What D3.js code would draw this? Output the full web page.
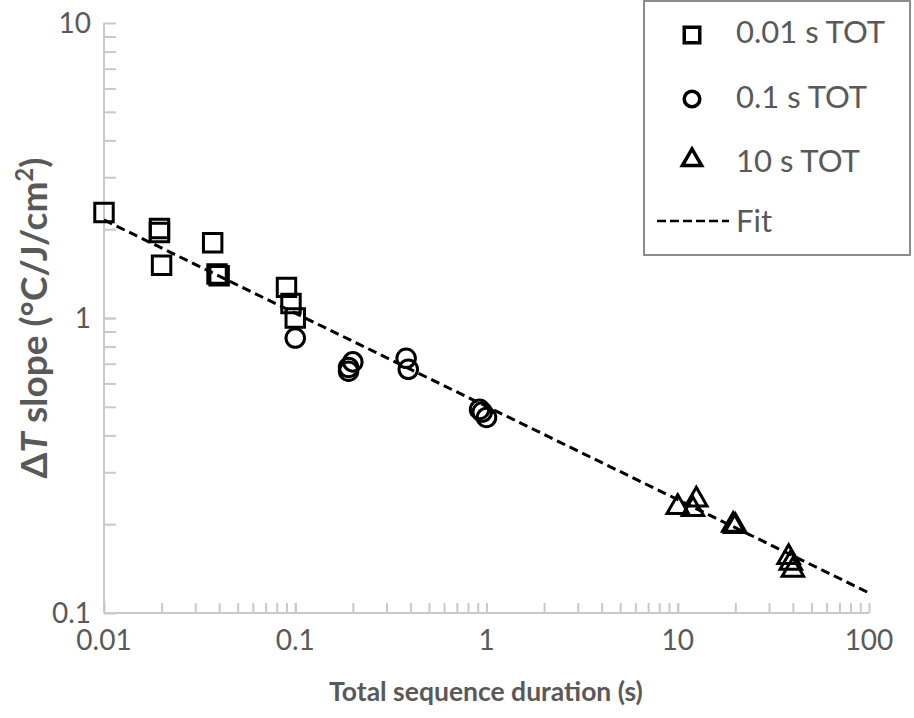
<!DOCTYPE html>
<html><head><meta charset="utf-8">
<script src="https://cdn.jsdelivr.net/npm/d3@7"></script>
<style>body{margin:0;background:#fff}svg{display:block}</style>
</head><body>
<svg id="c" width="914" height="718"></svg>
<script>
// Data
const sqX = [0.01, 0.0195, 0.0195, 0.02, 0.037, 0.039, 0.04, 0.09, 0.095, 0.1];
const sqY = [2.28, 2.01, 1.95, 1.51, 1.80, 1.41, 1.39, 1.27, 1.12, 1.0];
const ciX = [0.1, 0.19, 0.19, 0.2, 0.38, 0.39, 0.92, 0.95, 1.0];
const ciY = [0.855, 0.66, 0.68, 0.71, 0.73, 0.67, 0.49, 0.48, 0.46];
const trX = [10, 12.5, 12, 19.5, 20, 38, 39, 40];
const trY = [0.232, 0.246, 0.228, 0.202, 0.2, 0.157, 0.15, 0.142];
const fitX = [0.01, 100];
const fitY = [2.15, 0.117];
const xTicks = [0.01, 0.1, 1, 10, 100];
const xTickLabels = ["0.01", "0.1", "1", "10", "100"];
const yTicks = [0.1, 1, 10];
const yTickLabels = ["0.1", "1", "10"];
const legendLabels = ["0.01 s TOT", "0.1 s TOT", "10 s TOT", "Fit"];

const svg = d3.select("#c");
const x = d3.scaleLog().domain([0.01, 100]).range([104, 869]);
const y = d3.scaleLog().domain([0.1, 10]).range([613, 23]);
const axisCol = "#c9c9c9", textCol = "#595959";
const font = "Lato, 'Open Sans', sans-serif";

// minor tick values
const minorX = [], minorY = [];
[0.01, 0.1, 1, 10].forEach(d => { for (let k = 1; k <= 10; k++) minorX.push(d * k); });
[0.1, 1].forEach(d => { for (let k = 1; k <= 10; k++) minorY.push(d * k); });

// X axis (ticks inward)
const xa = svg.append("g").attr("transform", "translate(0,613)")
  .call(d3.axisTop(x).tickValues(minorX).tickSize(10).tickFormat(""));
xa.selectAll("path,line").attr("stroke", axisCol).attr("stroke-width", 2);
xa.select(".domain").attr("d", "M104,0H869");
// Y axis
const ya = svg.append("g").attr("transform", "translate(104,0)")
  .call(d3.axisRight(y).tickValues(minorY).tickSize(12).tickFormat(""));
ya.selectAll("path,line").attr("stroke", axisCol).attr("stroke-width", 2);
ya.select(".domain").attr("d", "M0,23V613");

// tick labels
svg.append("g").selectAll("text").data(xTicks).join("text")
  .attr("x", d => x(d)).attr("y", 650).attr("text-anchor", "middle")
  .attr("font-family", font).attr("font-size", 28).attr("fill", textCol)
  .text((d, i) => xTickLabels[i]);
svg.append("g").selectAll("text").data(yTicks).join("text")
  .attr("x", 91).attr("y", d => y(d) + 10).attr("text-anchor", "end")
  .attr("font-family", font).attr("font-size", 28).attr("fill", textCol)
  .text((d, i) => yTickLabels[i]);

// axis titles
svg.append("text").attr("x", 486).attr("y", 701).attr("text-anchor", "middle")
  .attr("font-family", font).attr("font-weight", "bold").attr("font-size", 26.5)
  .attr("fill", textCol).text("Total sequence duration (s)");
const yt = svg.append("text").attr("transform", "translate(47,318) rotate(-90)")
  .attr("text-anchor", "middle").attr("font-family", font).attr("font-weight", "bold")
  .attr("font-size", 37).attr("fill", textCol);
yt.append("tspan").text("Δ");
yt.append("tspan").attr("font-style", "italic").text("T");
yt.append("tspan").text(" slope (°C/J/cm");
yt.append("tspan").attr("font-size", 24).attr("dy", -14).text("2");
yt.append("tspan").attr("dy", 14).text(")");

// fit line
const line = d3.line().x(d => x(d[0])).y(d => y(d[1]));
svg.append("path").datum(fitX.map((v, i) => [v, fitY[i]])).attr("d", line)
  .attr("fill", "none").attr("stroke", "#000").attr("stroke-width", 3)
  .attr("stroke-dasharray", "9,5");

// markers
const sym = (type, size) => d3.symbol().type(type).size(size)();
function drawSeries(xs, ys, type, size, dy) {
  svg.append("g").selectAll("path").data(xs.map((v, i) => [v, ys[i]])).join("path")
    .attr("d", sym(type, size))
    .attr("transform", d => `translate(${x(d[0])},${y(d[1]) + (dy || 0)})`)
    .attr("fill", "none").attr("stroke", "#000").attr("stroke-width", 3);
}
drawSeries(sqX, sqY, d3.symbolSquare, 340);
drawSeries(ciX, ciY, d3.symbolCircle, 270);
drawSeries(trX, trY, d3.symbolTriangle, 200, 2);

// legend
const lg = svg.append("g");
lg.append("rect").attr("x", 644).attr("y", 1).attr("width", 266).attr("height", 254)
  .attr("fill", "#fff").attr("stroke", "#8c8c8c").attr("stroke-width", 2);
const legTypes = [d3.symbolSquare, d3.symbolCircle, d3.symbolTriangle];
const legSizes = [240, 190, 160];
const markY = [35, 99, 160];
legTypes.forEach((t, i) => {
  lg.append("path").attr("d", sym(t, legSizes[i]))
    .attr("transform", `translate(692,${markY[i]})`)
    .attr("fill", "none").attr("stroke", "#000").attr("stroke-width", 3.5);
});
lg.append("line").attr("x1", 657).attr("x2", 729).attr("y1", 221).attr("y2", 221)
  .attr("stroke", "#000").attr("stroke-width", 2.5).attr("stroke-dasharray", "9,4");
const baseY = [43, 108, 172, 232];
lg.selectAll("text.l").data(legendLabels).join("text").attr("class", "l")
  .attr("x", 736).attr("y", (d, i) => baseY[i])
  .attr("font-family", font).attr("font-size", 31).attr("fill", textCol).text(d => d);
</script>
</body></html>
